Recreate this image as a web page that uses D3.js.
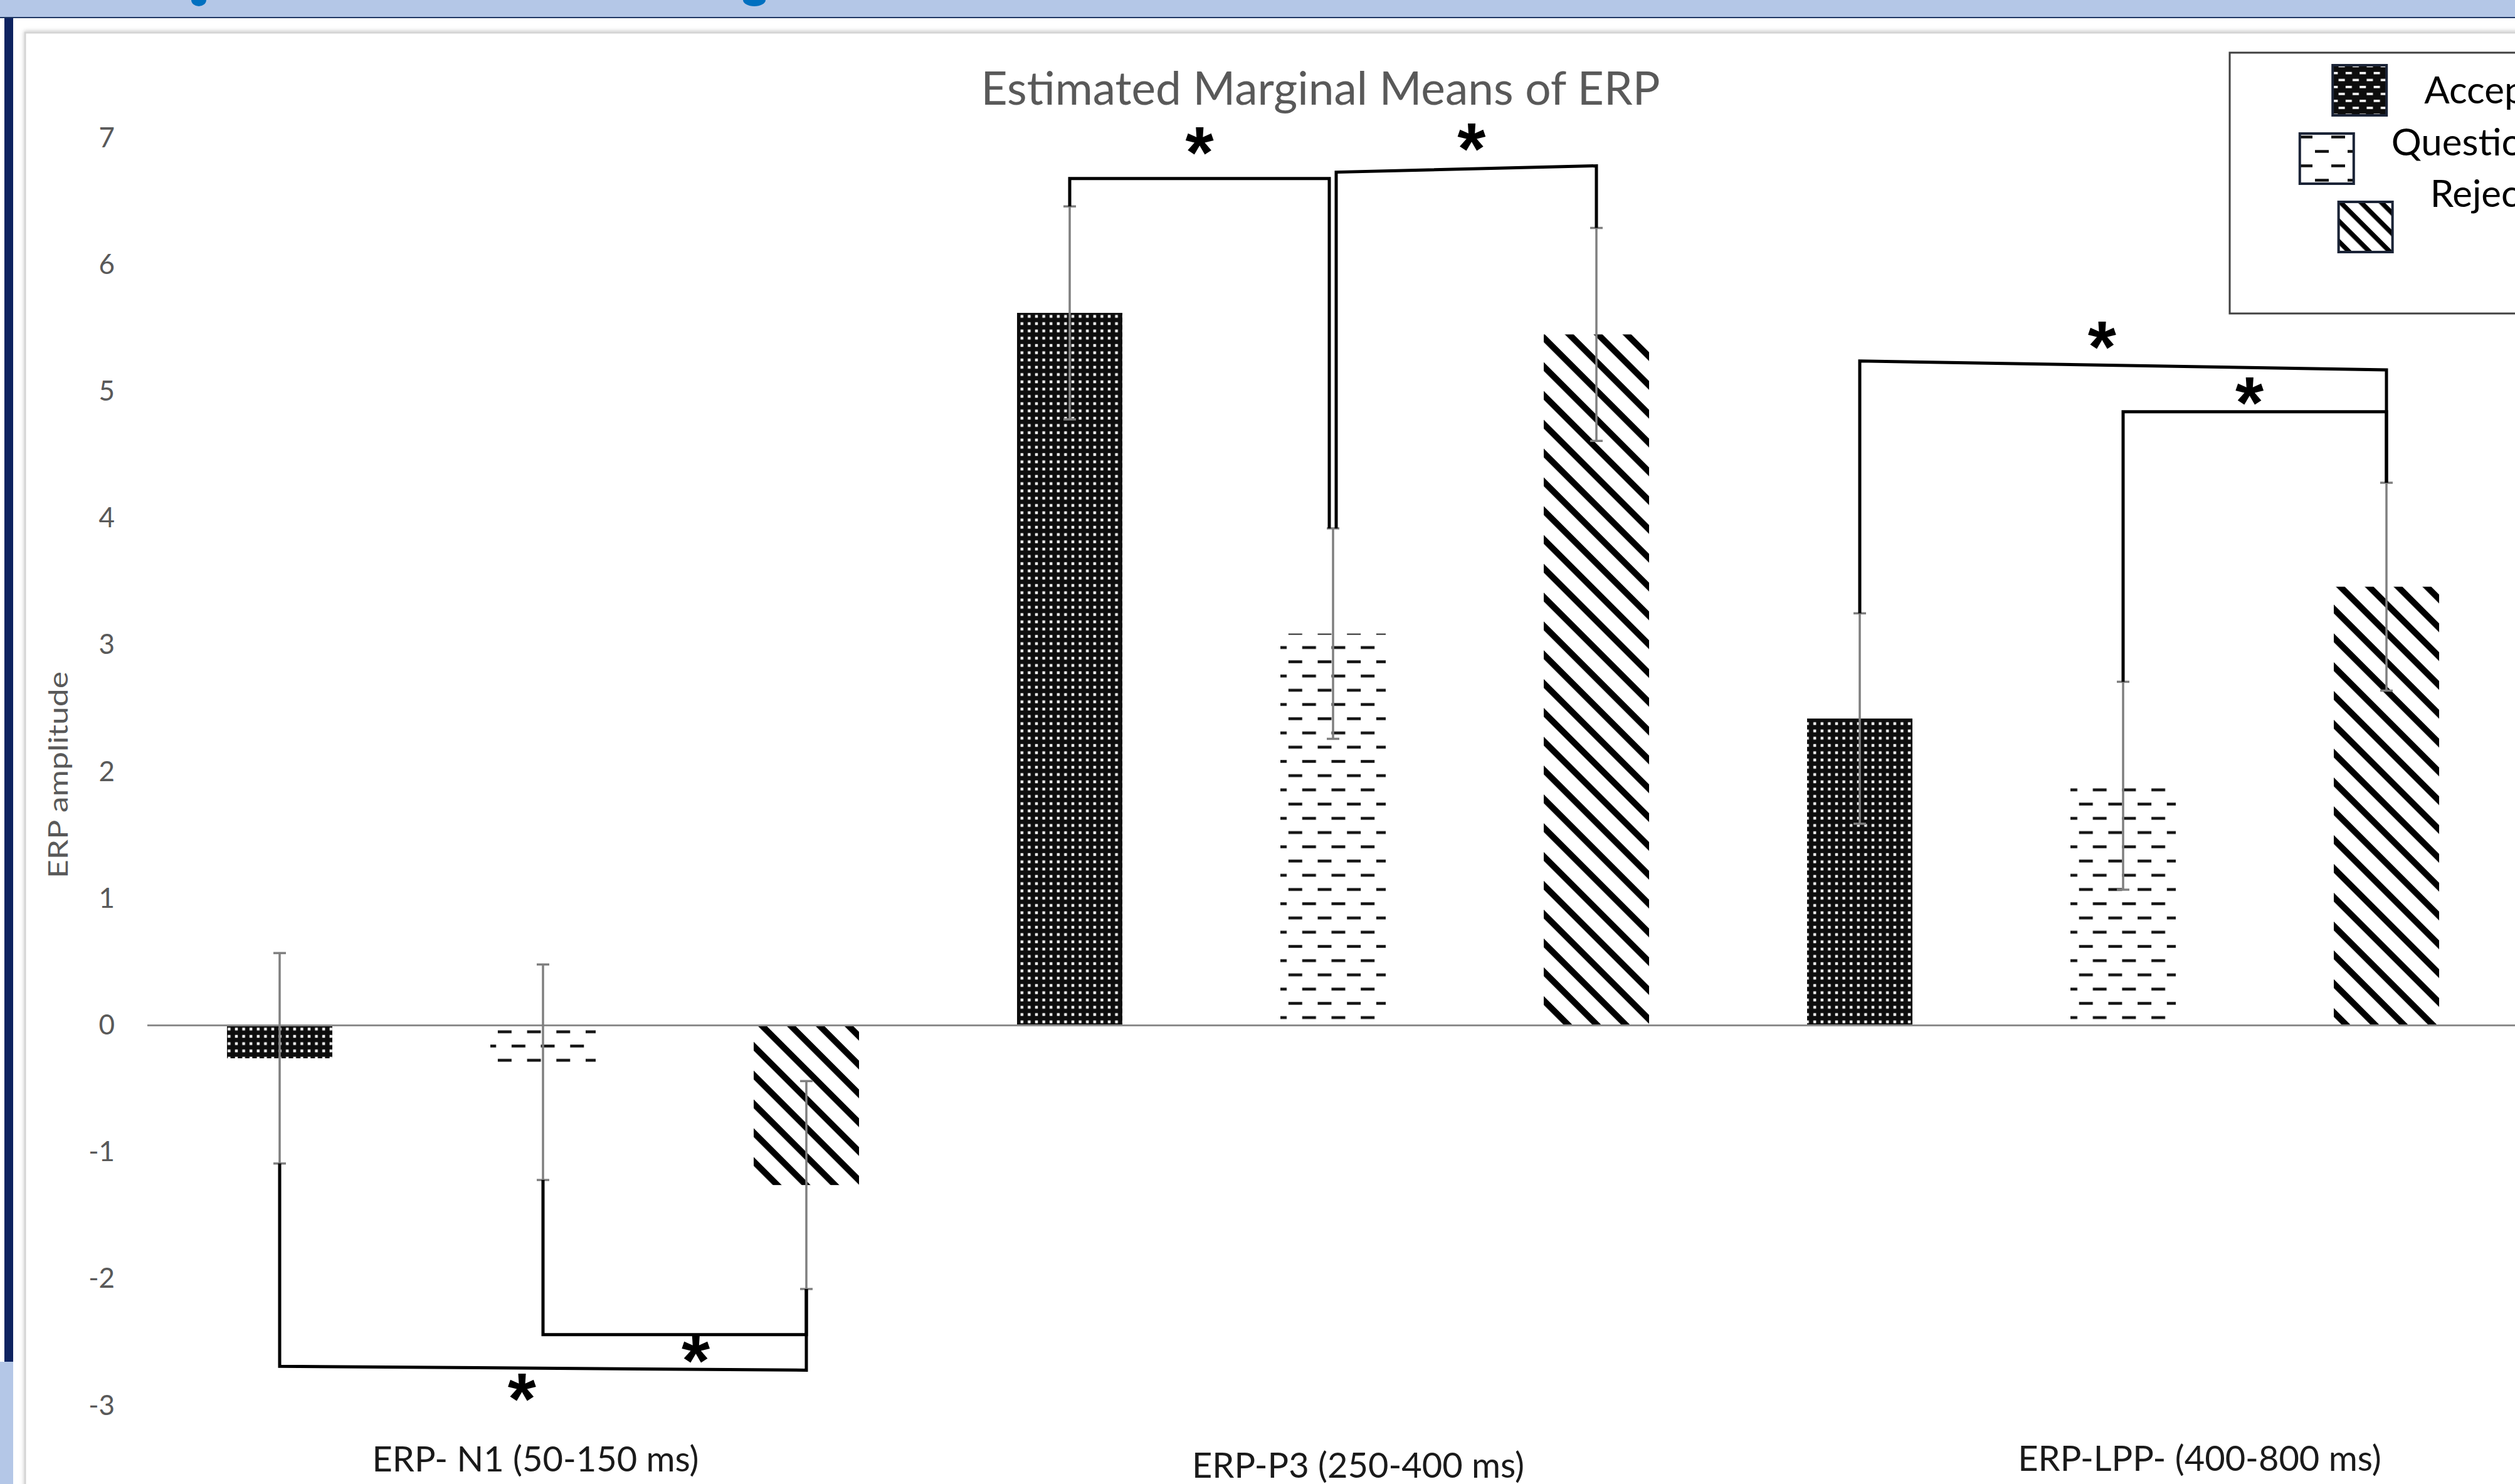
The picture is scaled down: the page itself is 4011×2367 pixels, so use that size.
<!DOCTYPE html>
<html>
<head>
<meta charset="utf-8">
<script src="https://cdn.jsdelivr.net/npm/d3@7"></script>
<style>
  body { margin: 0; background: #fff; overflow: hidden; }
  svg { display: block; font-family: Lato, "Open Sans", sans-serif; }
</style>
</head>
<body>
<div id="content"></div>
<script>
const width = 4011,
  height = 2367;

// data
const groups = ['ERP- N1 (50-150 ms)', 'ERP-P3 (250-400 ms)', 'ERP-LPP- (400-800 ms)'];
const conditions = ['Accepted', 'Questionable', 'Rejected'];
const accepted = [-0.26, 5.62, 2.42];
const questionable = [-0.37, 3.09, 1.89];
const rejected = [-1.26, 5.45, 3.46];
const acceptedErr = [0.83, 0.84, 0.83];
const questionableErr = [0.85, 0.83, 0.82];
const rejectedErr = [0.82, 0.84, 0.82];
const yTicks = [-3, -2, -1, 0, 1, 2, 3, 4, 5, 6, 7];

// significance brackets: group, condition pair, bracket level at both ends, star level, star position along bracket
const sigPairs = [
  { g: 0, from: 0, to: 2, la: -2.69, lb: -2.72, star: -2.89, at: 0.46 },
  { g: 0, from: 1, to: 2, la: -2.44, lb: -2.44, star: -2.59, at: 0.58 },
  { g: 1, from: 0, to: 1, la: 6.68, lb: 6.68, star: 6.94, at: 0.5 },
  { g: 1, from: 1, to: 2, la: 6.73, lb: 6.78, star: 6.97, at: 0.52 },
  { g: 2, from: 0, to: 2, la: 5.24, lb: 5.17, star: 5.41, at: 0.46 },
  { g: 2, from: 1, to: 2, la: 4.84, lb: 4.84, star: 4.97, at: 0.48 }
];

const values = [accepted, questionable, rejected];
const errors = [acceptedErr, questionableErr, rejectedErr];
const rows = [];
groups.forEach((g, i) => conditions.forEach((c, j) => {
  rows.push({ group: g, cond: c, ci: j, v: values[j][i], e: errors[j][i] });
}));

const x0 = d3.scaleBand()
  .domain(groups)
  .range([236, 236 + 3 * 1260]);

const x1 = d3.scaleBand()
  .domain(conditions)
  .range([0, x0.bandwidth()])
  .paddingInner(0.6)
  .paddingOuter(0.3);

const y = d3.scaleLinear()
  .domain([-3, 7])
  .range([2242, 220]);

const cx = d => x0(d.group) + x1(d.cond) + x1.bandwidth() / 2;

const svg = d3.select('#content').append('svg')
  .attr('width', width)
  .attr('height', height);

const defs = svg.append('defs');

const shadow = defs.append('filter').attr('id', 'panelShadow')
  .attr('x', '-2%').attr('y', '-2%').attr('width', '104%').attr('height', '104%');
shadow.append('feDropShadow')
  .attr('dx', 0).attr('dy', -1).attr('stdDeviation', 3)
  .attr('flood-color', '#000').attr('flood-opacity', 0.22);

function dotPattern(id, size, dot) {
  const p = defs.append('pattern').attr('id', id)
    .attr('patternUnits', 'userSpaceOnUse')
    .attr('width', size).attr('height', size);
  p.append('rect').attr('width', size).attr('height', size).attr('fill', '#0d0d0d');
  p.append('rect')
    .attr('x', (size - dot) / 2).attr('y', (size - dot) / 2)
    .attr('width', dot).attr('height', dot)
    .attr('fill', '#fff');
}

function dashPattern(id, w, h, len, thick, shift, bg, fg) {
  const p = defs.append('pattern').attr('id', id)
    .attr('patternUnits', 'userSpaceOnUse')
    .attr('width', w).attr('height', h);
  p.append('rect').attr('width', w).attr('height', h).attr('fill', bg);
  p.append('rect').attr('x', 0).attr('y', h / 4 - thick / 2)
    .attr('width', len).attr('height', thick).attr('fill', fg);
  p.append('rect').attr('x', shift).attr('y', 3 * h / 4 - thick / 2)
    .attr('width', len).attr('height', thick).attr('fill', fg);
}

function stripePattern(id, period, thick) {
  const p = defs.append('pattern').attr('id', id)
    .attr('patternUnits', 'userSpaceOnUse')
    .attr('width', period).attr('height', period)
    .attr('patternTransform', 'rotate(45)');
  p.append('rect').attr('width', period).attr('height', period).attr('fill', '#fff');
  p.append('rect').attr('width', period).attr('height', thick).attr('fill', '#000');
}

dotPattern('pat-Accepted', 11.6, 4.4);
dashPattern('pat-Questionable', 46.7, 45.4, 22, 4.5, 22, '#fff', '#111');
stripePattern('pat-Rejected', 32.5, 10);
dashPattern('leg-Accepted', 22.4, 22.2, 10, 3.6, 11.2, '#0d0d0d', '#fff');
dashPattern('leg-Questionable', 52, 46, 22, 4.5, 26, '#fff', '#111');
stripePattern('leg-Rejected', 23, 7.5);

// slide decoration: header band, left bar
svg.append('rect').attr('width', width).attr('height', height).attr('fill', '#fff');
svg.append('rect').attr('width', width).attr('height', 28).attr('fill', '#b4c7e7');
svg.append('line').attr('x1', 0).attr('x2', width).attr('y1', 28).attr('y2', 28)
  .attr('stroke', '#1f3864').attr('stroke-width', 2);
svg.selectAll('ellipse.cut')
  .data([[317, 12], [1203, 18]])
  .join('ellipse').attr('class', 'cut')
  .attr('cx', d => d[0]).attr('cy', 0).attr('rx', d => d[1]).attr('ry', 10)
  .attr('fill', '#0070c0');
svg.append('rect').attr('x', 7).attr('y', 29).attr('width', 14).attr('height', 2143)
  .attr('fill', '#0e2360');
svg.append('rect').attr('x', 0).attr('y', 2172).attr('width', 21).attr('height', height - 2172)
  .attr('fill', '#b4c7e7');

// chart panel
svg.append('rect')
  .attr('x', 40).attr('y', 52)
  .attr('width', width).attr('height', height)
  .attr('fill', '#fff')
  .attr('stroke', '#d4d4d4').attr('stroke-width', 3)
  .attr('filter', 'url(#panelShadow)');

const plot = svg.append('g');

plot.selectAll('rect.bar')
  .data(rows)
  .join('rect').attr('class', 'bar')
  .attr('x', d => x0(d.group) + x1(d.cond))
  .attr('y', d => y(Math.max(0, d.v)))
  .attr('width', x1.bandwidth())
  .attr('height', d => Math.abs(y(d.v) - y(0)))
  .attr('fill', d => `url(#pat-${d.cond})`);

plot.append('line')
  .attr('x1', x0.range()[0] - 1).attr('x2', width)
  .attr('y1', y(0)).attr('y2', y(0))
  .attr('stroke', '#8c8c8c').attr('stroke-width', 3);

// error bars
const err = plot.selectAll('g.err')
  .data(rows)
  .join('g').attr('class', 'err')
  .attr('stroke', '#7f7f7f').attr('stroke-width', 3.5);
err.append('line')
  .attr('x1', cx).attr('x2', cx)
  .attr('y1', d => y(d.v - d.e)).attr('y2', d => y(d.v + d.e));
err.selectAll('line.cap')
  .data(d => [[cx(d), d.v - d.e], [cx(d), d.v + d.e]])
  .join('line').attr('class', 'cap')
  .attr('x1', d => d[0] - 10).attr('x2', d => d[0] + 10)
  .attr('y1', d => y(d[1])).attr('y2', d => y(d[1]));

// significance brackets
const rowAt = (g, c) => rows[g * 3 + c];
const legX = (s, c, end) => {
  const r = rowAt(s.g, c);
  let nudge = 0;
  if (end === 'to' && c === 1) nudge = -6;
  if (end === 'from' && c === 1 && sigPairs.some(o => o.g === s.g && o.to === 1)) nudge = 5;
  return cx(r) + nudge;
};
const capOf = (r, level) => level < r.v ? r.v - r.e : r.v + r.e;

sigPairs.forEach(s => {
  const ra = rowAt(s.g, s.from), rb = rowAt(s.g, s.to);
  const xa = legX(s, s.from, 'from'), xb = legX(s, s.to, 'to');
  const path = d3.path();
  path.moveTo(xa, y(capOf(ra, s.la)));
  path.lineTo(xa, y(s.la));
  path.lineTo(xb, y(s.lb));
  path.lineTo(xb, y(capOf(rb, s.lb)));
  plot.append('path')
    .attr('d', path.toString())
    .attr('fill', 'none')
    .attr('stroke', '#000').attr('stroke-width', 5);
  plot.append('text')
    .attr('x', xa + (xb - xa) * s.at)
    .attr('y', y(s.star))
    .attr('dy', '0.45em')
    .attr('text-anchor', 'middle')
    .style('font-family', '"Liberation Sans", Arial, sans-serif')
    .style('font-weight', 'bold')
    .style('font-size', '116px')
    .attr('fill', '#000')
    .text('*');
});

// y axis
const yAxis = svg.append('g')
  .attr('transform', 'translate(196,0)')
  .call(d3.axisLeft(y).tickValues(yTicks).tickSize(0).tickPadding(13).tickFormat(d => String(d)));
yAxis.select('.domain').remove();
yAxis.selectAll('text')
  .style('font-family', 'Lato, sans-serif')
  .style('font-size', '44px')
  .attr('fill', '#595959');

svg.append('text')
  .attr('transform', 'translate(108,1236) rotate(-90)')
  .attr('text-anchor', 'middle')
  .attr('textLength', 330)
  .attr('lengthAdjust', 'spacingAndGlyphs')
  .style('font-size', '42px')
  .attr('fill', '#595959')
  .text('ERP amplitude');

// category labels (hand placed in the original, so nudged off the band centres)
const labelNudgeX = [-12, 40, 122];
const labelNudgeY = [0, 10, -1];
svg.selectAll('text.cat')
  .data(groups)
  .join('text').attr('class', 'cat')
  .attr('x', (d, i) => x0(d) + x0.bandwidth() / 2 + labelNudgeX[i])
  .attr('y', (d, i) => 2347 + labelNudgeY[i])
  .attr('text-anchor', 'middle')
  .style('font-size', '56px')
  .attr('fill', '#1a1a1a')
  .text(d => d);

svg.append('text')
  .attr('x', 2106).attr('y', 167)
  .attr('text-anchor', 'middle')
  .style('font-size', '73px')
  .attr('fill', '#595959')
  .text('Estimated Marginal Means of ERP');

// legend
const legend = svg.append('g');
legend.append('rect')
  .attr('x', 3556).attr('y', 84)
  .attr('width', 800).attr('height', 416)
  .attr('fill', '#fff')
  .attr('stroke', '#404040').attr('stroke-width', 3);

conditions.forEach((c, i) => {
  const t = legend.append('text')
    .attr('x', 3990).attr('y', 165 + i * 82.5)
    .attr('text-anchor', 'middle')
    .style('font-size', '60px')
    .attr('fill', '#000')
    .text(c);
  const start = 3990 - t.node().getComputedTextLength() / 2;
  legend.append('rect')
    .attr('x', start - 60 - 86)
    .attr('y', 144 + i * 109 - 40)
    .attr('width', 86).attr('height', 80)
    .attr('fill', `url(#leg-${c})`)
    .attr('stroke', '#1b2437').attr('stroke-width', 4);
});
</script>
</body>
</html>
